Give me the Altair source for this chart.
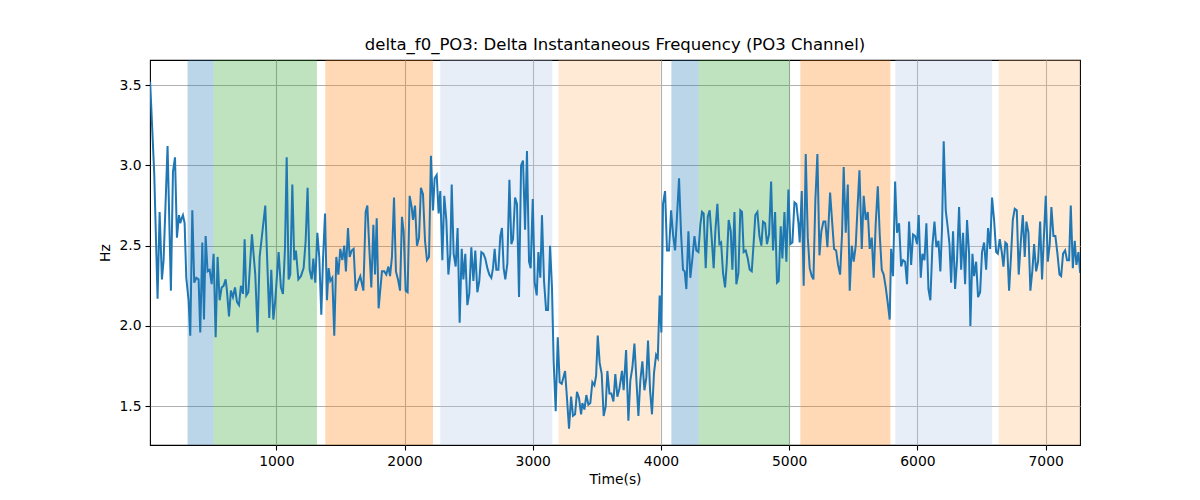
import altair as alt
import pandas as pd

# Sample times (s) and delta f0 (Hz).
time_s = [
    16, 48, 74, 90, 108, 121, 152, 178, 194, 210, 225, 241, 251, 262, 272, 285,
    298, 316, 329, 345, 360, 376, 394, 407, 423, 436, 449, 464, 480, 496, 511,
    527, 542, 558, 574, 589, 605, 615, 631, 646, 662, 678, 693, 709, 724, 740,
    753, 766, 782, 810, 836, 854, 870,
    914, 945, 961, 977, 992, 1018, 1036, 1052, 1068, 1081, 1096, 1109, 1125,
    1140, 1153, 1172, 1192, 1213, 1229, 1244, 1260, 1276, 1289, 1304, 1320,
    1335, 1351, 1364, 1380, 1395, 1408, 1421, 1437, 1452, 1468, 1484, 1499,
    1515, 1530, 1543, 1559, 1572, 1588, 1603, 1619, 1640, 1655, 1679, 1697,
    1710, 1725, 1741, 1757, 1770, 1783, 1798,
    1824, 1842, 1858, 1874, 1887, 1902, 1918, 1933, 1949, 1965, 1980, 1993,
    2009, 2024, 2040, 2056, 2066, 2082, 2097, 2113, 2128, 2144, 2160, 2175,
    2191, 2206, 2222, 2235, 2251, 2266, 2279, 2295, 2310, 2326, 2342, 2357,
    2368, 2383, 2399, 2414, 2430, 2446, 2459, 2474, 2490, 2505, 2521, 2537,
    2552, 2568, 2583, 2599, 2615, 2630, 2646, 2661, 2677, 2690, 2703, 2716,
    2732,
    2747, 2760, 2773, 2786, 2802, 2818, 2833, 2846, 2862, 2877, 2893, 2909,
    2924, 2940, 2955, 2971, 2984, 3000, 3015, 3031, 3044, 3059, 3072, 3088,
    3104, 3119, 3135, 3150, 3163, 3179, 3195, 3210, 3226, 3239, 3252, 3267,
    3283, 3299, 3314, 3330, 3345, 3361, 3377, 3387, 3403, 3418, 3434, 3449,
    3465, 3481, 3494, 3507, 3522, 3538, 3553, 3569, 3582, 3598, 3613, 3629,
    3644, 3660, 3676,
    3696, 3709, 3728, 3746, 3761, 3777, 3793, 3808, 3824, 3839, 3855, 3871,
    3886, 3899, 3915, 3930, 3946, 3962, 3975, 3990, 4003, 4016, 4032, 4047,
    4063, 4079, 4094, 4110, 4125, 4141, 4157, 4172, 4185, 4198, 4214, 4229,
    4245, 4261, 4276, 4292, 4307, 4320, 4333, 4349, 4365, 4380, 4396, 4411,
    4424, 4440, 4456, 4469, 4484, 4500, 4513, 4528, 4544, 4557, 4573, 4588,
    4604,
    4619, 4632, 4645, 4661, 4677, 4692, 4708, 4723, 4736, 4752, 4768, 4783,
    4796, 4812, 4827, 4843, 4859, 4874, 4890, 4905, 4918, 4934, 4947, 4963,
    4978, 4994, 5009, 5025, 5041, 5056, 5072, 5082, 5098, 5113, 5129, 5145,
    5160, 5176, 5189, 5204, 5220, 5236, 5251, 5267, 5282, 5298, 5319, 5334,
    5350, 5366, 5381, 5397, 5412, 5425, 5441, 5457, 5472, 5488, 5503, 5519,
    5532, 5548,
    5566, 5581, 5597, 5613, 5628, 5644, 5659, 5675, 5691, 5706, 5722, 5737,
    5753, 5769, 5784, 5795, 5810, 5826, 5841, 5857, 5873, 5888, 5904, 5919,
    5935, 5951, 5966, 5982, 5997, 6010, 6026, 6039, 6055, 6070, 6086, 6101,
    6117, 6133, 6148, 6164, 6179, 6192, 6205, 6221, 6237, 6250, 6263, 6278,
    6294, 6309, 6325, 6341, 6356, 6372, 6387, 6403,
    6413, 6429, 6442, 6458, 6473, 6489, 6504, 6520, 6536, 6551, 6567, 6582,
    6598, 6614, 6627, 6642, 6658, 6671, 6686, 6699, 6715, 6731, 6744, 6759,
    6775, 6790, 6806, 6822, 6837, 6850, 6866, 6881, 6897, 6910, 6926, 6941,
    6957, 6972, 6985, 7001, 7017, 7032, 7045, 7061, 7076, 7092, 7108, 7121,
    7136, 7152, 7167, 7183, 7196, 7212, 7227, 7240, 7256, 7269,
]

delta_f0 = [
    3.52, 2.95, 2.17, 2.71, 2.29, 2.41, 3.12, 2.22, 2.96, 3.05, 2.55, 2.69,
    2.64, 2.67, 2.69, 2.64, 2.30, 2.16, 1.94, 2.72, 2.27, 2.30, 2.29, 1.96,
    2.52, 2.04, 2.56, 2.34, 2.35, 2.26, 2.45, 1.93, 2.43, 2.16, 2.24, 2.25,
    2.29, 2.22, 2.06, 2.22, 2.18, 2.24, 2.15, 2.13, 2.25, 2.20, 2.54, 2.19,
    2.21, 2.57, 2.32, 1.96, 2.43,
    2.75, 2.05, 2.35, 2.04, 2.16, 2.46, 2.24, 2.20, 2.49, 3.05, 2.29, 2.32,
    2.88, 2.41, 2.47, 2.29, 2.31, 2.36, 2.53, 2.86, 2.35, 2.29, 2.42, 2.27,
    2.58, 2.43, 2.07, 2.41, 2.70, 2.16, 2.36, 2.28, 2.30, 1.94, 2.43, 2.32,
    2.48, 2.41, 2.50, 2.34, 2.61, 2.43, 2.47, 2.48, 2.22, 2.28, 2.31, 2.22,
    2.71, 2.75, 2.49, 2.24, 2.63, 2.32, 2.67, 2.11,
    2.34, 2.34, 2.32, 2.37, 2.31, 2.43, 2.80, 2.34, 2.29, 2.22, 2.68, 2.59,
    2.22, 2.21, 2.81, 2.74, 2.66, 2.75, 2.50, 2.55, 2.86, 2.82, 2.53, 2.41,
    2.43, 3.06, 2.72, 2.92, 2.94, 2.70, 2.84, 2.41, 2.81, 2.66, 2.32, 2.45,
    2.88, 2.45, 2.37, 2.61, 2.02, 2.48, 2.29, 2.45, 2.13, 2.20, 2.49, 2.28,
    2.47, 2.21, 2.28, 2.46, 2.45, 2.42, 2.36, 2.32, 2.30, 2.36, 2.48, 2.35,
    2.35,
    2.56, 2.61, 2.36, 2.29, 2.39, 2.91, 2.51, 2.54, 2.80, 2.76, 2.18, 3.00,
    3.03, 2.60, 3.09, 2.40, 2.36, 2.79, 2.27, 2.19, 2.46, 2.30, 2.69, 2.28,
    2.10, 2.10, 2.50, 2.24, 1.78, 1.47, 1.93, 1.65, 1.64, 1.68, 1.72, 1.55,
    1.36, 1.56, 1.44, 1.45, 1.59, 1.55, 1.45, 1.52, 1.48, 1.57, 1.51, 1.52,
    1.65, 1.63, 1.69, 1.94, 1.77, 1.70, 1.44, 1.50, 1.72, 1.58, 1.58, 1.53,
    1.70, 1.56, 1.61,
    1.72, 1.60, 1.85, 1.41, 1.66, 1.74, 1.89, 1.67, 1.44, 1.66, 1.78, 1.60,
    1.68, 1.91, 1.60, 1.45, 1.71, 1.82, 1.80, 2.19, 1.96, 2.76, 2.84, 2.47,
    2.47, 2.72, 2.57, 2.47, 2.68, 2.92, 2.57, 2.35, 2.34, 2.23, 2.59, 2.30,
    2.42, 2.56, 2.47, 2.46, 2.63, 2.71, 2.70, 2.36, 2.68, 2.72, 2.54, 2.36,
    2.59, 2.76, 2.51, 2.52, 2.33, 2.24, 2.39, 2.66, 2.59, 2.35, 2.71, 2.26,
    2.33,
    2.72, 2.71, 2.46, 2.47, 2.42, 2.35, 2.34, 2.52, 2.69, 2.71, 2.56, 2.50,
    2.65, 2.64, 2.51, 2.57, 2.90, 2.47, 2.71, 2.27, 2.28, 2.62, 2.42, 2.71,
    2.40, 2.85, 2.51, 2.52, 2.77, 2.76, 2.64, 2.52, 2.84, 2.25, 3.07, 2.55,
    2.36, 2.31, 2.29, 2.78, 3.07, 2.44, 2.59, 2.65, 2.65, 2.49, 2.83, 2.66,
    2.48, 2.47, 2.38, 2.32, 2.57, 2.99, 2.58, 2.88, 2.22, 2.50, 2.40, 2.50,
    2.72, 2.97,
    2.48, 2.81, 2.66, 2.71, 2.48, 2.55, 2.30, 2.64, 2.87, 2.57, 2.35, 2.32,
    2.24, 2.14, 2.04, 2.48, 2.31, 2.90, 2.58, 2.64, 2.37, 2.41, 2.40, 2.26,
    2.65, 2.38, 2.57, 2.56, 2.51, 2.69, 2.30, 2.45, 2.41, 2.64, 2.23, 2.16,
    2.50, 2.65, 2.49, 2.53, 2.34, 2.61, 3.15, 2.72, 2.61, 2.51, 2.27, 2.59,
    2.23, 2.41, 2.74, 2.35, 2.58, 2.26, 2.66, 2.45,
    2.00, 2.45, 2.31, 2.40, 2.18, 2.21, 2.46, 2.52, 2.35, 2.61, 2.48, 2.80,
    2.66, 2.46, 2.45, 2.54, 2.46, 2.37, 2.52, 2.51, 2.22, 2.45, 2.66, 2.73,
    2.72, 2.32, 2.52, 2.69, 2.43, 2.65, 2.58, 2.22, 2.35, 2.51, 2.34, 2.40,
    2.65, 2.29, 2.53, 2.81, 2.40, 2.51, 2.74, 2.56, 2.56, 2.45, 2.32, 2.31,
    2.45, 2.47, 2.41, 2.41, 2.75, 2.36, 2.53, 2.38, 2.46, 2.33,
]

# Shaded condition blocks
span_start = [308, 511, 1382, 2279, 3200, 4081, 4294, 5087, 5828, 6634]
span_end = [511, 1317, 2222, 3153, 3995, 4294, 5004, 5789, 6582, 7400]
span_color = ["#1f77b4", "#2ca02c", "#ff7f0e", "#aec7e8", "#ffbb78"] * 2

x_domain = [15, 7268]
y_domain = [1.259, 3.656]
x_ticks = [1000, 2000, 3000, 4000, 5000, 6000, 7000]
y_ticks = [1.5, 2.0, 2.5, 3.0, 3.5]

font = "DejaVu Sans"

line_df = pd.DataFrame({"time": time_s, "value": delta_f0})
span_df = pd.DataFrame({"start": span_start, "end": span_end, "color": span_color})

x_scale = alt.Scale(domain=x_domain, nice=False, zero=False)
y_scale = alt.Scale(domain=y_domain, nice=False, zero=False)

spans = alt.Chart(span_df).mark_rect(opacity=0.3, clip=True).encode(
    x=alt.X("start:Q", scale=x_scale),
    x2="end:Q",
    y=alt.value(0),
    y2=alt.value(385),
    color=alt.Color("color:N", scale=None),
)

line = alt.Chart(line_df).mark_line(color="#1f77b4", strokeWidth=2, clip=True).encode(
    x=alt.X("time:Q", scale=x_scale, title="Time(s)",
            axis=alt.Axis(values=x_ticks, format="d")),
    y=alt.Y("value:Q", scale=y_scale, title="Hz",
            axis=alt.Axis(values=y_ticks, format=".1f")),
)

chart = alt.layer(spans, line).properties(
    width=930,
    height=385,
    title=alt.TitleParams(
        "delta_f0_PO3: Delta Instantaneous Frequency (PO3 Channel)",
        font=font, fontSize=16.5, fontWeight="normal", color="black", offset=7,
    ),
    autosize=alt.AutoSizeParams(type="none"),
    padding={"left": 142, "top": 52, "right": 100, "bottom": 52},
).configure_view(
    stroke="black", strokeWidth=1.1,
).configure_axis(
    grid=True, gridColor="#b0b0b0", gridWidth=1.1,
    domain=False,
    tickColor="black", tickSize=5, tickWidth=1.1,
    labelFont=font, labelFontSize=13.9, labelColor="black", labelPadding=4,
    titleFont=font, titleFontSize=13.9, titleFontWeight="normal", titleColor="black",
).configure_axisX(
    titlePadding=5,
).configure_axisY(
    titlePadding=6,
)

chart.save("out.html", embed_options={"renderer": "svg", "actions": False})
